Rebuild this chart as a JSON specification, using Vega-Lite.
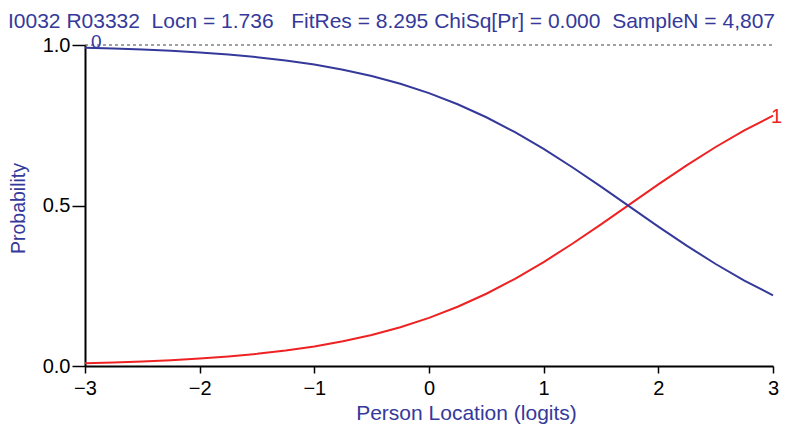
{
  "$schema": "https://vega.github.io/schema/vega-lite/v6.json",
  "width": 688,
  "height": 321,
  "autosize": {"type": "none"},
  "padding": {"left": 85, "top": 45, "right": 13, "bottom": 60},
  "background": "white",
  "config": {
    "view": {"stroke": null},
    "font": "Liberation Sans"
  },
  "title": {
    "text": "I0032 R03332\u00a0\u00a0Locn = 1.736\u00a0\u00a0\u00a0FitRes = 8.295 ChiSq[Pr] = 0.000\u00a0\u00a0SampleN = 4,807",
    "anchor": "start",
    "frame": "group",
    "dx": -77,
    "offset": 1,
    "fontSize": 21,
    "fontWeight": "normal",
    "color": "#35399a",
    "font": "Liberation Sans"
  },
  "datasets": {
    "curves": [
      {"x": -3, "p": 0.0087, "cat": "1"},
      {"x": -2.75, "p": 0.01114, "cat": "1"},
      {"x": -2.5, "p": 0.01426, "cat": "1"},
      {"x": -2.25, "p": 0.01824, "cat": "1"},
      {"x": -2, "p": 0.02329, "cat": "1"},
      {"x": -1.75, "p": 0.02971, "cat": "1"},
      {"x": -1.5, "p": 0.03783, "cat": "1"},
      {"x": -1.25, "p": 0.04807, "cat": "1"},
      {"x": -1, "p": 0.06088, "cat": "1"},
      {"x": -0.75, "p": 0.07685, "cat": "1"},
      {"x": -0.5, "p": 0.09657, "cat": "1"},
      {"x": -0.25, "p": 0.12069, "cat": "1"},
      {"x": 0, "p": 0.14982, "cat": "1"},
      {"x": 0.25, "p": 0.18452, "cat": "1"},
      {"x": 0.5, "p": 0.22514, "cat": "1"},
      {"x": 0.75, "p": 0.27172, "cat": "1"},
      {"x": 1, "p": 0.32387, "cat": "1"},
      {"x": 1.25, "p": 0.38083, "cat": "1"},
      {"x": 1.5, "p": 0.44128, "cat": "1"},
      {"x": 1.75, "p": 0.5035, "cat": "1"},
      {"x": 2, "p": 0.56562, "cat": "1"},
      {"x": 2.25, "p": 0.62575, "cat": "1"},
      {"x": 2.5, "p": 0.68222, "cat": "1"},
      {"x": 2.75, "p": 0.7338, "cat": "1"},
      {"x": 3, "p": 0.77971, "cat": "1"},
      {"x": -3, "p": 0.9913, "cat": "0"},
      {"x": -2.75, "p": 0.98886, "cat": "0"},
      {"x": -2.5, "p": 0.98574, "cat": "0"},
      {"x": -2.25, "p": 0.98176, "cat": "0"},
      {"x": -2, "p": 0.97671, "cat": "0"},
      {"x": -1.75, "p": 0.97029, "cat": "0"},
      {"x": -1.5, "p": 0.96217, "cat": "0"},
      {"x": -1.25, "p": 0.95193, "cat": "0"},
      {"x": -1, "p": 0.93912, "cat": "0"},
      {"x": -0.75, "p": 0.92315, "cat": "0"},
      {"x": -0.5, "p": 0.90343, "cat": "0"},
      {"x": -0.25, "p": 0.87931, "cat": "0"},
      {"x": 0, "p": 0.85018, "cat": "0"},
      {"x": 0.25, "p": 0.81548, "cat": "0"},
      {"x": 0.5, "p": 0.77486, "cat": "0"},
      {"x": 0.75, "p": 0.72828, "cat": "0"},
      {"x": 1, "p": 0.67613, "cat": "0"},
      {"x": 1.25, "p": 0.61917, "cat": "0"},
      {"x": 1.5, "p": 0.55872, "cat": "0"},
      {"x": 1.75, "p": 0.4965, "cat": "0"},
      {"x": 2, "p": 0.43438, "cat": "0"},
      {"x": 2.25, "p": 0.37425, "cat": "0"},
      {"x": 2.5, "p": 0.31778, "cat": "0"},
      {"x": 2.75, "p": 0.2662, "cat": "0"},
      {"x": 3, "p": 0.22029, "cat": "0"}
    ],
    "ref": [
      {"x": -3, "x2": 3, "p": 1}
    ]
  },
  "encoding": {
    "x": {
      "field": "x",
      "type": "quantitative",
      "scale": {"domain": [-3, 3], "nice": false},
      "axis": {
        "values": [-3, -2, -1, 0, 1, 2, 3],
        "format": "d",
        "title": "Person Location (logits)",
        "titleColor": "#35399a",
        "titleFontSize": 21,
        "titleFontWeight": "normal",
        "titleFont": "Liberation Sans",
        "titleX": 381,
        "titleY": 53,
        "titleAlign": "center",
        "titleBaseline": "alphabetic",
        "labelFontSize": 20,
        "labelColor": "#000000",
        "labelFont": "Liberation Sans",
        "labelPadding": 5,
        "labelFlush": false,
        "tickSize": 7,
        "tickColor": "#000000",
        "tickWidth": 1.5,
        "domainColor": "#000000",
        "domainWidth": 2,
        "grid": false
      }
    },
    "y": {
      "field": "p",
      "type": "quantitative",
      "scale": {"domain": [0, 1], "nice": false},
      "axis": {
        "values": [0, 0.5, 1],
        "format": ".1f",
        "title": "Probability",
        "titleColor": "#35399a",
        "titleFontSize": 19.5,
        "titleFontWeight": "normal",
        "titleFont": "Liberation Sans",
        "titleX": -61,
        "titleY": 163,
        "titleAlign": "center",
        "titleBaseline": "alphabetic",
        "labelFontSize": 20,
        "labelColor": "#000000",
        "labelFont": "Liberation Sans",
        "labelPadding": 2,
        "labelFlush": false,
        "labelOverlap": false,
        "tickSize": 13,
        "tickColor": "#000000",
        "tickWidth": 1.5,
        "domainColor": "#000000",
        "domainWidth": 2,
        "grid": false
      }
    }
  },
  "layer": [
    {
      "data": {"name": "ref"},
      "mark": {"type": "rule", "color": "#444444", "strokeWidth": 1.2, "strokeDash": [3, 3]},
      "encoding": {
        "x2": {"field": "x2"}
      }
    },
    {
      "data": {"name": "curves"},
      "mark": {"type": "line", "strokeWidth": 2, "clip": false},
      "encoding": {
        "color": {
          "field": "cat",
          "type": "nominal",
          "scale": {"domain": ["0", "1"], "range": ["#35399a", "#ee2222"]},
          "legend": null
        }
      }
    },
    {
      "data": {"name": "curves"},
      "transform": [{"filter": "datum.cat == '0' && datum.x == -3"}],
      "mark": {"type": "text", "align": "left", "baseline": "alphabetic", "dx": 6, "dy": 0, "fontSize": 19, "color": "#35399a", "text": "0"},
      "encoding": {}
    },
    {
      "data": {"name": "curves"},
      "transform": [{"filter": "datum.cat == '1' && datum.x == 3"}],
      "mark": {"type": "text", "align": "left", "baseline": "alphabetic", "dx": -2, "dy": 7, "fontSize": 20, "color": "#ee2222", "text": "1"},
      "encoding": {}
    }
  ]
}
